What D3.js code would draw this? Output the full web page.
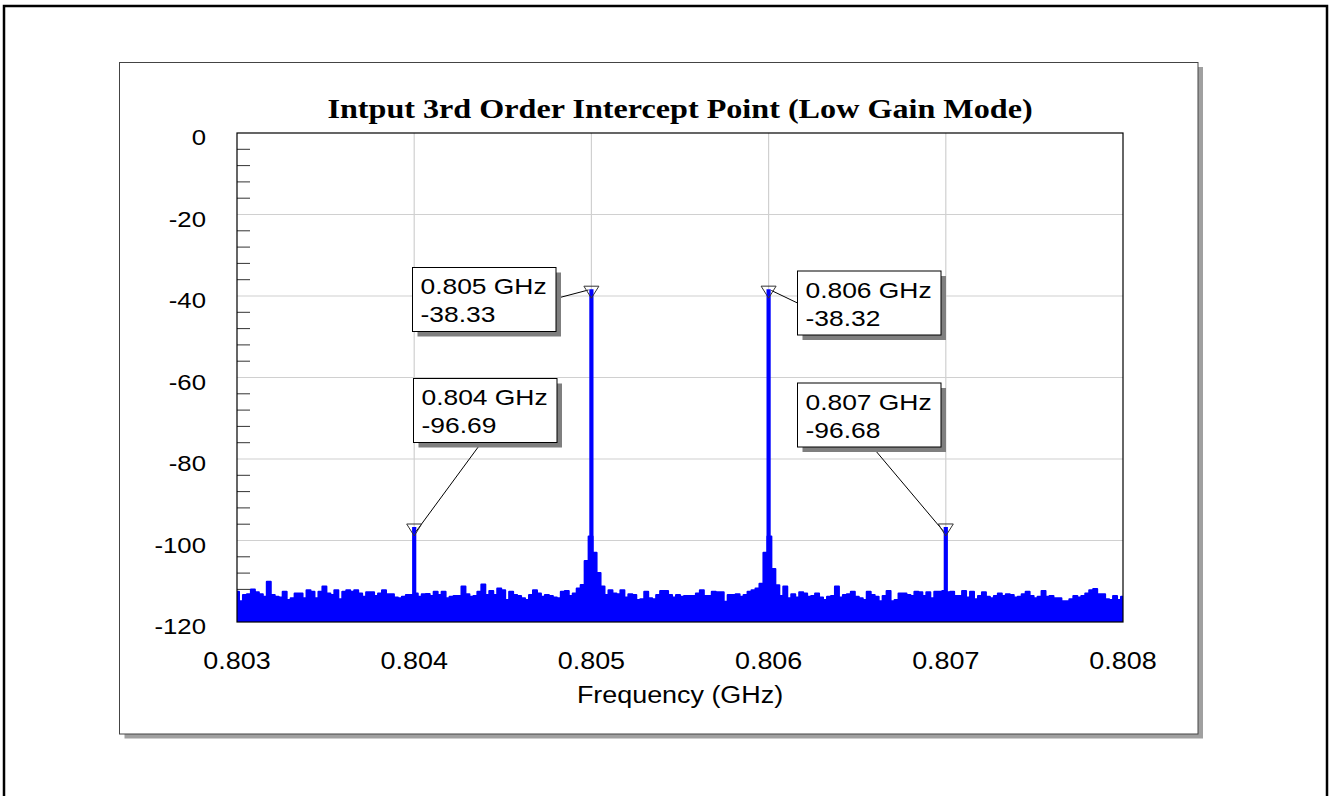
<!DOCTYPE html>
<html>
<head>
<meta charset="utf-8">
<script src="https://cdn.jsdelivr.net/npm/d3@7/dist/d3.min.js"></script>
<style>
  html, body { margin: 0; padding: 0; background: #ffffff; }
  svg { display: block; }
</style>
</head>
<body>
<svg id="chart" width="1331" height="796"></svg>
<script>
// Analyzer sweep: start / stop frequency (GHz); levels are evenly spaced across it.
const sweepStart = 0.803;
const sweepStop = 0.808;

// Trace level (dBm) at each sweep point.
const traceLevels = [
  -112.6,-114.9,-113.4,-113.2,-112.0,-112.7,-113.2,-113.8,-110.1,-113.4,
  -113.8,-114.0,-112.6,-114.6,-114.2,-113.0,-113.0,-114.2,-112.2,-112.6,
  -114.2,-112.6,-111.3,-113.0,-113.4,-112.2,-114.4,-112.6,-112.2,-112.6,
  -112.2,-113.0,-113.8,-112.7,-112.7,-113.6,-113.0,-112.2,-113.2,-113.2,
  -114.0,-114.2,-113.8,-113.4,-113.4,-113.0,-113.8,-113.2,-113.1,-113.6,
  -112.6,-113.4,-112.6,-114.2,-113.8,-113.6,
  -113.6,-111.3,-113.2,-113.8,-113.6,-112.6,-110.8,-113.4,-112.4,-113.4,
  -111.8,-112.2,-114.6,-112.6,-113.4,-113.6,-114.2,-114.6,-113.4,-112.2,
  -113.0,-113.8,-113.4,-113.6,-114.0,-114.2,-112.6,-112.4,-113.6,-113.0,
  -111.8,-110.9,-105.0,-99.0,-103.0,-108.0,-111.3,-113.4,-112.2,-113.0,
  -113.2,-112.2,-114.0,-113.2,-113.4,-114.6,-114.4,-112.6,-114.2,-114.4,
  -113.4,-112.4,-112.4,-113.4,-114.0,-113.4,
  -113.8,-113.6,-113.6,-113.6,-113.0,-112.2,-113.6,-113.6,-112.6,-112.7,
  -112.7,-115.0,-113.4,-113.4,-113.2,-113.8,-113.4,-112.6,-112.2,-111.8,
  -110.6,-103.0,-99.0,-107.0,-111.0,-113.6,-111.3,-114.2,-113.2,-114.0,
  -112.7,-113.0,-113.8,-113.6,-113.0,-114.0,-114.6,-113.8,-113.6,-111.3,
  -114.0,-113.4,-113.2,-112.6,-113.8,-114.2,-114.6,-112.6,-113.4,-113.8,
  -114.9,-113.6,-112.4,-114.9,-114.6,-113.0,
  -113.0,-113.4,-113.6,-112.6,-112.7,-113.6,-112.7,-114.2,-112.6,-112.6,
  -112.4,-112.7,-112.6,-113.6,-113.6,-112.4,-114.0,-112.6,-114.4,-113.6,
  -112.7,-113.8,-114.2,-113.6,-113.0,-113.6,-113.2,-113.4,-114.0,-113.8,
  -113.2,-112.6,-113.6,-114.2,-113.8,-112.4,-113.8,-113.6,-114.2,-114.2,
  -114.9,-114.9,-114.4,-113.6,-114.0,-113.6,-113.0,-112.2,-111.9,-113.2,
  -113.2,-114.4,-114.6,-113.6,-114.6,-113.8
];

// Marker readouts: two fundamental tones and the two 3rd-order products.
const markerFreqs = [0.804, 0.805, 0.806, 0.807];
const markerLevels = [-96.69, -38.33, -38.32, -96.68];

// Axis ticks.
const xTickValues = [0.803, 0.804, 0.805, 0.806, 0.807, 0.808];
const yTickValues = [0, -20, -40, -60, -80, -100, -120];
const yMinorStep = 4;

const chartTitle = "Intput 3rd Order Intercept Point (Low Gain Mode)";
const xAxisTitle = "Frequency (GHz)";

// ---------------------------------------------------------------------------
const W = 1331, H = 796;
const plot = { left: 237, top: 133, right: 1123, bottom: 622 };
const SANS = "'Liberation Sans', Arial, sans-serif";
const SERIF = "'Liberation Serif', 'Times New Roman', serif";
const STRETCH = 1.17;   // lettering is drawn slightly wide
const BLUE = "#0000ff";

const svg = d3.select("#chart");

const x = d3.scaleLinear().domain([sweepStart, sweepStop]).range([plot.left, plot.right]);
const y = d3.scaleLinear().domain([-120, 0]).range([plot.bottom, plot.top]);

// widened text helper: anchor point + horizontal stretch
function wideText(g, tx, ty, str, opts) {
  return g.append("text")
    .attr("transform", `translate(${tx},${ty}) scale(${opts.sx || STRETCH},1)`)
    .attr("text-anchor", opts.anchor || "start")
    .attr("font-family", opts.family || SANS)
    .attr("font-size", opts.size)
    .attr("font-weight", opts.weight || "normal")
    .attr("fill", "#000")
    .text(str);
}

// outer page frame (runs off the bottom of the page)
svg.append("rect")
  .attr("x", 4).attr("y", 6).attr("width", 1323).attr("height", 800)
  .attr("fill", "none").attr("stroke", "#000").attr("stroke-width", 2.5);

// chart panel with drop shadow
svg.append("rect")
  .attr("x", 124.5).attr("y", 67).attr("width", 1078.5).attr("height", 671.5)
  .attr("fill", "#a0a0a0");
svg.append("rect")
  .attr("x", 119.5).attr("y", 62.5).attr("width", 1078.5).attr("height", 671.5)
  .attr("fill", "#fff").attr("stroke", "#444").attr("stroke-width", 1);

// title
wideText(svg, (plot.left + plot.right) / 2, 118, chartTitle,
  { size: 27.5, family: SERIF, weight: "bold", anchor: "middle" });

// grid
const grid = svg.append("g").attr("stroke", "#d0d0d0").attr("stroke-width", 1.2);
grid.selectAll("line.gx")
  .data(xTickValues.slice(1, -1)).join("line")
  .attr("x1", d => x(d)).attr("x2", d => x(d))
  .attr("y1", plot.top).attr("y2", plot.bottom);
grid.selectAll("line.gy")
  .data(yTickValues.slice(1, -1)).join("line")
  .attr("x1", plot.left).attr("x2", plot.right)
  .attr("y1", d => y(d)).attr("y2", d => y(d));

// minor ticks on the level axis
const minorTicks = d3.range(-yMinorStep, -120, -yMinorStep).filter(v => v % 20 !== 0);
svg.append("g").attr("stroke", "#333").attr("stroke-width", 1)
  .selectAll("line").data(minorTicks).join("line")
  .attr("x1", plot.left).attr("x2", plot.left + 13)
  .attr("y1", d => y(d)).attr("y2", d => y(d));

// spectrum trace
svg.append("clipPath").attr("id", "plotClip")
  .append("rect").attr("x", plot.left).attr("y", plot.top)
  .attr("width", plot.right - plot.left).attr("height", plot.bottom - plot.top);

const sweepStep = (sweepStop - sweepStart) / (traceLevels.length - 1);
const trace = traceLevels.map((v, i) => ({ f: sweepStart + i * sweepStep, v }));

const traceG = svg.append("g").attr("clip-path", "url(#plotClip)");
traceG.append("path")
  .datum(trace)
  .attr("fill", BLUE)
  .attr("d", d3.area().curve(d3.curveStep)
    .x(d => x(d.f)).y0(y(-120)).y1(d => y(d.v)));
traceG.append("path")
  .datum(trace)
  .attr("fill", "none").attr("stroke", BLUE).attr("stroke-width", 2)
  .attr("stroke-linejoin", "round")
  .attr("d", d3.line().curve(d3.curveStep).x(d => x(d.f)).y(d => y(d.v)));

// tone lines
const markers = markerFreqs.map((f, i) => ({ f, v: markerLevels[i] }));
traceG.selectAll("line.tone").data(markers).join("line")
  .attr("stroke", BLUE).attr("stroke-width", 4.2)
  .attr("x1", d => x(d.f)).attr("x2", d => x(d.f))
  .attr("y1", y(-120)).attr("y2", d => y(d.v));

// plot frame
svg.append("rect")
  .attr("x", plot.left).attr("y", plot.top)
  .attr("width", plot.right - plot.left).attr("height", plot.bottom - plot.top)
  .attr("fill", "none").attr("stroke", "#000").attr("stroke-width", 1.2);

// axis labels
const yLab = svg.append("g");
yTickValues.forEach(v => wideText(yLab, plot.left - 31, y(v) + 12, String(v), { size: 22, anchor: "end" }));
const xLab = svg.append("g");
xTickValues.forEach(f => wideText(xLab, x(f), 669, f.toFixed(3), { size: 23, anchor: "middle" }));
wideText(svg, (plot.left + plot.right) / 2, 703, xAxisTitle, { size: 23, anchor: "middle" });

// marker annotation boxes: [left, top, leader start dx, dy within box, leader target dy]
const boxW = 143.5, boxH = 64;
const boxPlacement = [
  [413.5, 378.5, 68, boxH, 7],
  [412.5, 267.5, boxW, 31, 0],
  [797.5, 271, 0, 32, 0],
  [797.5, 383, 75, boxH, 7]
];

const ann = svg.append("g");
markers.forEach((m, i) => {
  const [bx, by, sx, sy, tdy] = boxPlacement[i];
  const px = x(m.f), py = y(m.v);
  // leader line, stopping at the marker outline
  const x0 = bx + sx, y0 = by + sy, x1 = px, y1 = py + tdy;
  const len = Math.hypot(x1 - x0, y1 - y0);
  const cut = 3 / len;
  ann.append("line")
    .attr("x1", x0).attr("y1", y0)
    .attr("x2", x1 - (x1 - x0) * cut).attr("y2", y1 - (y1 - y0) * cut)
    .attr("stroke", "#000").attr("stroke-width", 1);
  // marker triangle
  ann.append("path")
    .attr("d", `M${px - 7.5},${py - 3} L${px + 7.5},${py - 3} L${px},${py + 9} Z`)
    .attr("fill", "none").attr("stroke", "#333").attr("stroke-width", 1);
  // box with shadow
  ann.append("rect").attr("x", bx + 5).attr("y", by + 5)
    .attr("width", boxW).attr("height", boxH).attr("fill", "#7f7f7f");
  ann.append("rect").attr("x", bx).attr("y", by)
    .attr("width", boxW).attr("height", boxH)
    .attr("fill", "#fff").attr("stroke", "#000").attr("stroke-width", 1);
  wideText(ann, bx + 8, by + 26.5, `${m.f.toFixed(3)} GHz`, { size: 22, sx: 1.2 });
  wideText(ann, bx + 8, by + 54.5, m.v.toFixed(2), { size: 22, sx: 1.2 });
});
</script>
</body>
</html>
